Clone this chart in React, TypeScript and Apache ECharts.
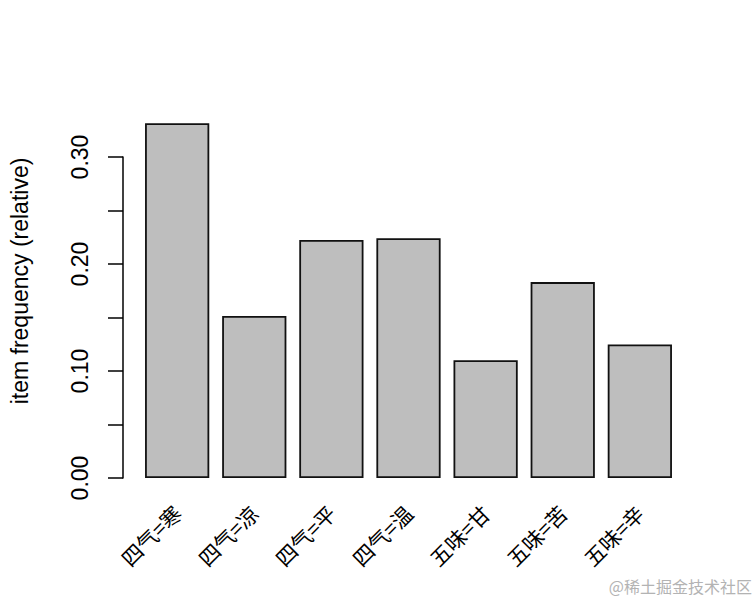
import React, { useEffect, useRef } from "react";
import * as echarts from "echarts";

const categories = ["四气=寒", "四气=凉", "四气=平", "四气=温", "五味=甘", "五味=苦", "五味=辛"];
const frequencies = [0.3315, 0.1514, 0.2224, 0.224, 0.11, 0.1831, 0.1247];
const yTickLabels = ["0.00", "0.10", "0.20", "0.30"];
const yAxisTitle = "item frequency (relative)";
const watermark = "@稀土掘金技术社区";

export default function App() {
  const ref = useRef<HTMLDivElement>(null);
  useEffect(() => {
    if (!ref.current) return;
    const chart = echarts.init(ref.current, null, { renderer: "svg" });
    chart.setOption({
      animation: false,
      backgroundColor: "#ffffff",
      grid: { left: 138.6, right: 77.6, top: 157, bottom: 128, containLabel: false },
      xAxis: {
        type: "category",
        data: categories,
        axisLine: { show: false },
        axisTick: { show: false },
        axisLabel: {
          rotate: 45,
          margin: 31,
          fontSize: 21,
          color: "#000",
          fontFamily: "Noto Sans CJK SC",
          interval: 0,
        },
      },
      yAxis: {
        type: "value",
        min: 0,
        max: 0.3,
        interval: 0.05,
        offset: 15.6,
        axisLine: { show: true, lineStyle: { color: "#000", width: 1.5 } },
        axisTick: { show: true, length: 15, lineStyle: { color: "#000", width: 1.5 } },
        splitLine: { show: false },
        axisLabel: {
          rotate: 90,
          margin: 32,
          fontSize: 23,
          color: "#000",
          fontFamily: "Liberation Sans",
          formatter: (v: number) => {
            const s = v.toFixed(2);
            return yTickLabels.includes(s) ? s : "";
          },
        },
      },
      series: [
        {
          type: "bar",
          data: frequencies,
          clip: false,
          barCategoryGap: "16.7%",
          itemStyle: { color: "#BEBEBE", borderColor: "#111", borderWidth: 1.8 },
        },
      ],
      graphic: [
        {
          type: "text",
          x: 20,
          y: 281,
          rotation: Math.PI / 2,
          style: {
            text: yAxisTitle,
            fontSize: 23,
            fontFamily: "Liberation Sans",
            fill: "#000",
            align: "center",
            verticalAlign: "middle",
          },
        },
        {
          type: "text",
          right: 4,
          top: 578,
          style: {
            text: watermark,
            fontSize: 16,
            fontFamily: "Noto Sans CJK SC",
            fill: "#b3b3b3",
          },
        },
      ],
    });
    return () => chart.dispose();
  }, []);
  return <div ref={ref} style={{ position: "fixed", left: 0, top: 0, width: 756, height: 606 }} />;
}
